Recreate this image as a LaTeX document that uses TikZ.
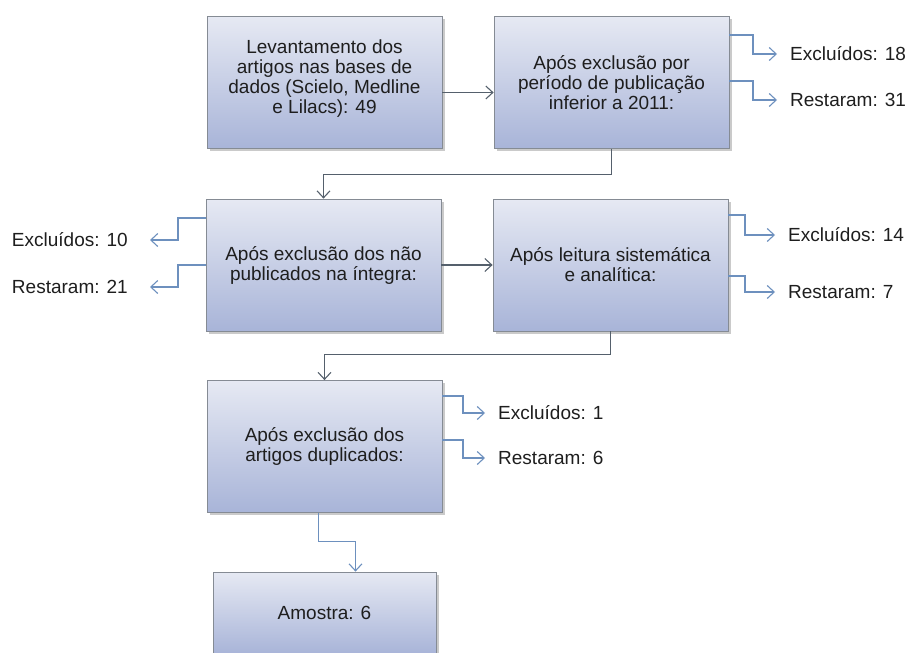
\documentclass[tikz,border=0pt]{standalone}
\usepackage{fontspec}
\setmainfont{Liberation Sans}
\usetikzlibrary{arrows.meta,shadows}
\definecolor{boxtop}{HTML}{E6E9F3}
\definecolor{boxbot}{HTML}{A8B4D8}
\definecolor{boxline}{HTML}{858B94}
\definecolor{mainline}{HTML}{55606C}
\definecolor{branchline}{HTML}{6D90BE}
\definecolor{txt}{HTML}{1E1E1E}
\begin{document}
\begin{tikzpicture}[x=1pt,y=-1pt,
  flowbox/.style={draw=boxline, line width=0.8pt, top color=boxtop, bottom color=boxbot,
    minimum width=235pt, minimum height=132pt, align=center, text=txt,
    font=\fontsize{19}{20}\selectfont, inner sep=2pt,
    drop shadow={shadow xshift=2.5pt, shadow yshift=-2.5pt, opacity=0.35, fill=black!60}},
  lbl/.style={inner sep=0pt, text height=13.5pt, text depth=0pt, text=txt,
    font=\fontsize{19}{20}\selectfont},
  mainarrow/.style={draw=mainline, line width=1.1pt, -{Straight Barb[length=7pt,width=13pt]}},
  brancharrow/.style={draw=branchline, line width=1.1pt, -{Straight Barb[length=7pt,width=13pt]}}]
\useasboundingbox (0,0) rectangle (910,653);
\clip (0,0) rectangle (910,653);

% boxes
\node[flowbox] (b1) at (324.5,82.5) {\\[-14pt]Levantamento dos\\artigos nas bases de\\dados (Scielo, Medline\\e Lilacs): 49};
\node[flowbox] (b2) at (611.5,82.5) {Após exclusão por\\período de publicação\\inferior a 2011:};
\node[flowbox] (b3) at (323.5,265) {Após exclusão dos não\\publicados na íntegra:};
\node[flowbox] (b4) at (610.5,265) {Após leitura sistemática\\e analítica:};
\node[flowbox] (b5) at (324.5,446.5) {Após exclusão dos\\artigos duplicados:};
\node[flowbox, minimum width=223pt, minimum height=82pt] (b6) at (324.5,613) {Amostra: 6};

% labels
\node[lbl, anchor=west] (e2) at (790,54) {Excluídos: 18};
\node[lbl, anchor=west] (r2) at (790,100) {Restaram: 31};
\node[lbl, anchor=east] (e3) at (128,240) {Excluídos: 10};
\node[lbl, anchor=east] (r3) at (128,287) {Restaram: 21};
\node[lbl, anchor=west] (e4) at (788,235) {Excluídos: 14};
\node[lbl, anchor=west] (r4) at (788,292) {Restaram: 7};
\node[lbl, anchor=west] (e5) at (498,413) {Excluídos: 1};
\node[lbl, anchor=west] (r5) at (498,458) {Restaram: 6};

% main connectors
\draw[mainarrow] ([yshift=-10pt]b1.east) -- ([yshift=-10pt]b2.west);
\draw[mainarrow] (b2.south) -- ++(0,26) -| (b3.north);
\draw[mainarrow] (b3.east) -- (b4.west);
\draw[mainarrow] (b4.south) -- ++(0,23) -| (b5.north);
\draw[brancharrow] ([xshift=-6pt]b5.south) -- ++(0,29) -| ([xshift=31pt]b6.north);

% branches
\draw[brancharrow] ([yshift=47.5pt]b2.east) -| ([xshift=-37pt]e2.west) -- ([xshift=-13pt]e2.west);
\draw[brancharrow] ([yshift=1.5pt]b2.east) -| ([xshift=-37pt]r2.west) -- ([xshift=-13pt]r2.west);
\draw[brancharrow] ([yshift=47pt]b3.west) -| ([xshift=50pt]e3.east) -- ([xshift=22pt]e3.east);
\draw[brancharrow] (b3.west) -| ([xshift=50pt]r3.east) -- ([xshift=22pt]r3.east);
\draw[brancharrow] ([yshift=50pt]b4.east) -| ([xshift=-43pt]e4.west) -- ([xshift=-13pt]e4.west);
\draw[brancharrow] ([yshift=-11pt]b4.east) -| ([xshift=-43pt]r4.west) -- ([xshift=-13pt]r4.west);
\draw[brancharrow] ([yshift=50.5pt]b5.east) -| ([xshift=-35pt]e5.west) -- ([xshift=-13pt]e5.west);
\draw[brancharrow] ([yshift=6.5pt]b5.east) -| ([xshift=-35pt]r5.west) -- ([xshift=-13pt]r5.west);
\end{tikzpicture}
\end{document}
